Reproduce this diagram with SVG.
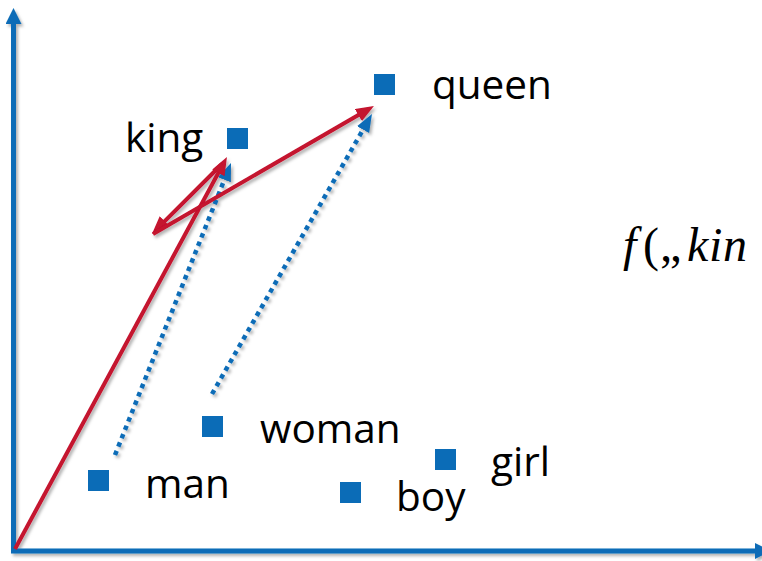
<svg xmlns="http://www.w3.org/2000/svg" width="762" height="561" viewBox="0 0 762 561">
  <style>
    .lbl { font-family: "Open Sans", "Liberation Sans", sans-serif; font-size: 40.5px; fill: #000; }
    .pt { fill: #0b6cb7; }
    .axis { stroke: #0b6cb7; stroke-width: 5; fill: none; }
    .red { stroke: #c4122f; stroke-width: 4; fill: none; }
    .dot { stroke: #0b6cb7; stroke-width: 4.5; fill: none; stroke-dasharray: 4.5 4.5; }
    .math { font-family: "Liberation Serif", "DejaVu Serif", serif; font-style: italic; font-size: 48px; fill: #000; }
  </style>
  <defs>
    <filter id="sh" x="-10%" y="-10%" width="120%" height="120%">
      <feDropShadow dx="2" dy="2.5" stdDeviation="1.5" flood-color="#000" flood-opacity="0.3"/>
    </filter>
    <marker id="axHead" markerUnits="userSpaceOnUse" markerWidth="18" markerHeight="18" refX="4" refY="8" orient="auto">
      <path d="M0,0 L16,8 L0,16 z" fill="#0b6cb7"/>
    </marker>
    <marker id="redHead" markerUnits="userSpaceOnUse" markerWidth="20" markerHeight="16" refX="8" refY="7" orient="auto">
      <path d="M0,0 L18,7 L0,14 z" fill="#c4122f"/>
    </marker>
    <marker id="blueHead" markerUnits="userSpaceOnUse" markerWidth="20" markerHeight="16" refX="8" refY="7" orient="auto">
      <path d="M0,0 L18,7 L0,14 z" fill="#0b6cb7"/>
    </marker>
  </defs>
  <rect width="762" height="561" fill="#fff"/>

  <g id="connectors" filter="url(#sh)">
    <line id="y-axis" class="axis" x1="13.5" y1="553" x2="13.5" y2="20" marker-end="url(#axHead)"/>
    <line id="x-axis" class="axis" x1="11" y1="551" x2="759" y2="551" marker-end="url(#axHead)"/>
    <line id="man-king-dotted" class="dot" x1="115" y1="455" x2="227.3" y2="172.3" marker-end="url(#blueHead)"/>
    <line id="woman-queen-dotted" class="dot" x1="212" y1="394" x2="367" y2="122.7" marker-end="url(#blueHead)"/>
    <line id="origin-king" class="red" x1="15" y1="549" x2="222.2" y2="165.8" marker-end="url(#redHead)"/>
    <line id="king-minus-man" class="red" x1="222" y1="164" x2="159" y2="226.9" marker-end="url(#redHead)"/>
    <line id="plus-woman" class="red" x1="153" y1="234" x2="365.3" y2="111" marker-end="url(#redHead)"/>
  </g>

  <g id="node-king">
    <rect class="pt" x="227" y="128" width="21" height="21"/>
    <text class="lbl" x="125" y="152">king</text>
  </g>
  <g id="node-queen">
    <rect class="pt" x="374" y="74" width="21" height="21"/>
    <text class="lbl" x="432" y="99">queen</text>
  </g>
  <g id="node-woman">
    <rect class="pt" x="202" y="416" width="21" height="21"/>
    <text class="lbl" x="260" y="443">woman</text>
  </g>
  <g id="node-man">
    <rect class="pt" x="88" y="470" width="21" height="21"/>
    <text class="lbl" x="145" y="498">man</text>
  </g>
  <g id="node-boy">
    <rect class="pt" x="340" y="482" width="21" height="21"/>
    <text class="lbl" x="396" y="511">boy</text>
  </g>
  <g id="node-girl">
    <rect class="pt" x="435" y="449" width="21" height="21"/>
    <text class="lbl" x="491" y="476">girl</text>
  </g>

  <g id="formula">
    <text class="math" y="261"><tspan x="623">f</tspan><tspan x="643" font-style="normal">(</tspan><tspan x="660" font-style="normal">„</tspan><tspan x="687">k</tspan><tspan x="709">i</tspan><tspan x="723">n</tspan></text>
  </g>
</svg>
